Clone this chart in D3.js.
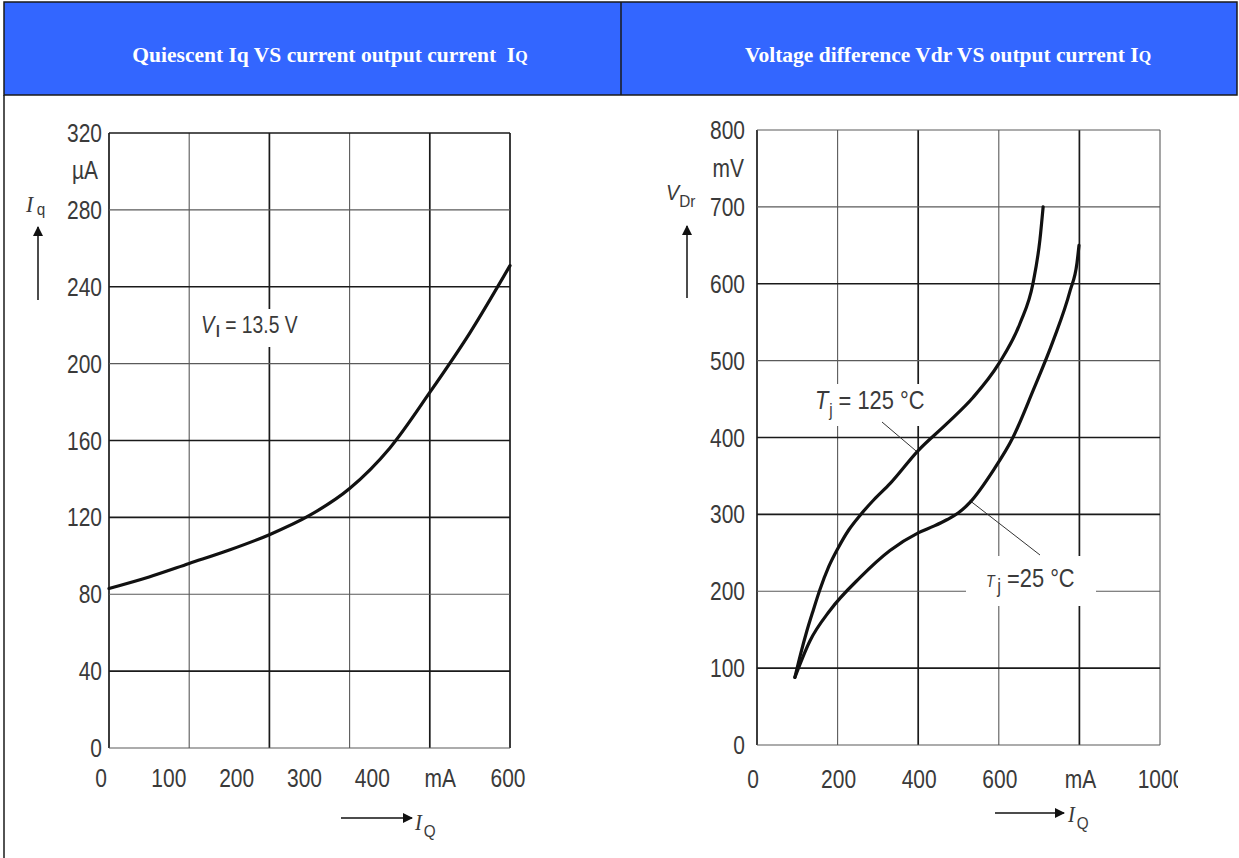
<!DOCTYPE html>
<html>
<head>
<meta charset="utf-8">
<script src="https://cdn.jsdelivr.net/npm/d3@7"></script>
<style>
  body { margin: 0; background: #fff; }
  svg { display: block; }
  .tick { font-family: "Liberation Sans", Arial, sans-serif; font-size: 25px; fill: #3a3a3a; }
</style>
</head>
<body>
<svg width="1239" height="858"></svg>
<script>
// ---- data ----
var titleLeft = "Quiescent Iq VS current output current\u00a0\u00a0I";
var titleRight = "Voltage difference Vdr VS output current I";

// left chart: quiescent current Iq (uA) vs output current IQ (mA), VI = 13.5 V
var iqX = [0, 60, 120, 180, 240, 300, 360, 420, 480, 540, 600];
var iqY = [83, 89, 96, 103, 111, 121, 135, 156, 185, 216, 251];
var leftYTicks = [0, 40, 80, 120, 160, 200, 240, 280, 320];
var leftXGrid = [0, 120, 240, 360, 480, 600];
var leftXLabels = ["0", "100", "200", "300", "400", "mA", "600"];

// right chart: drop voltage VDr (mV) vs output current IQ (mA)
var hotX = [94, 108, 123, 140, 156, 178, 201, 228, 256, 290, 330, 400, 471, 536, 600, 653, 685, 702, 710];
var hotY = [88, 118, 147, 176, 202, 232, 256, 280, 299, 319, 340, 383, 418, 452, 496, 549, 601, 657, 700];
var coldX = [94, 131, 181, 256, 330, 400, 440, 471, 500, 529, 586, 635, 685, 735, 777, 794, 799];
var coldY = [88, 135, 175, 218, 253, 276, 285, 293, 302, 316, 357, 400, 461, 526, 591, 627, 650];
var rightYTicks = [0, 100, 200, 300, 400, 500, 600, 700, 800];
var rightXTicks = [0, 200, 400, 600, 800, 1000];
var rightXLabels = ["0", "200", "400", "600", "mA", "1000"];

var svg = d3.select("svg");
var defs = svg.append("defs");
defs.append("marker").attr("id", "arr")
	.attr("viewBox", "0 0 10 10").attr("refX", 9).attr("refY", 5)
	.attr("markerWidth", 10).attr("markerHeight", 10)
	.attr("markerUnits", "userSpaceOnUse").attr("orient", "auto")
	.append("path").attr("d", "M0,0L10,5L0,10Z").attr("fill", "#111");
defs.append("clipPath").attr("id", "cut")
	.append("rect").attr("x", 0).attr("y", 0).attr("width", 1178).attr("height", 858);

// ---- header table ----
svg.append("rect").attr("x", 4).attr("y", 2).attr("width", 1233).attr("height", 93)
	.attr("fill", "#3366ff").attr("stroke", "#1a1a1a").attr("stroke-width", 1.5);
svg.append("line").attr("x1", 621).attr("x2", 621).attr("y1", 2).attr("y2", 95)
	.attr("stroke", "#1a1a1a").attr("stroke-width", 1.5);
svg.append("line").attr("x1", 4).attr("x2", 4).attr("y1", 95).attr("y2", 858)
	.attr("stroke", "#1a1a1a").attr("stroke-width", 1.5);

function header(x, s) {
	var t = svg.append("text").attr("x", x).attr("y", 62)
		.attr("text-anchor", "middle")
		.style("font-family", "'Liberation Serif', 'Times New Roman', serif")
		.style("font-weight", "bold").style("font-size", "21.5px").style("fill", "#fff");
	t.append("tspan").text(s);
	t.append("tspan").style("font-size", "16px").text("Q");
}
header(330, titleLeft);
header(948, titleRight);

// text helper: tick font is narrow in the original, squeeze it a little
function txt(g, x, y, s, anchor, size) {
	return g.append("text").attr("class", "tick")
		.attr("transform", "translate(" + x + "," + y + ") scale(0.84,1)")
		.attr("text-anchor", anchor || "middle")
		.style("font-size", (size || 25) + "px")
		.text(s);
}

function grid(g, x, y, xs, ys, thinX, thinY) {
	g.selectAll(".gx").data(xs).enter().append("line")
		.attr("x1", d => x(d)).attr("x2", d => x(d))
		.attr("y1", y.range()[0]).attr("y2", y.range()[1])
		.attr("stroke", d => thinX.indexOf(d) >= 0 ? "#5a5a5a" : "#1a1a1a")
		.attr("stroke-width", d => thinX.indexOf(d) >= 0 ? 1.1 : 1.7);
	g.selectAll(".gy").data(ys).enter().append("line")
		.attr("x1", x.range()[0]).attr("x2", x.range()[1])
		.attr("y1", d => y(d)).attr("y2", d => y(d))
		.attr("stroke", d => thinY.indexOf(d) >= 0 ? "#5a5a5a" : "#1a1a1a")
		.attr("stroke-width", d => thinY.indexOf(d) >= 0 ? 1.1 : 1.7);
}

function curve(g, x, y, xs, ys) {
	var pts = xs.map((d, i) => [d, ys[i]]);
	g.append("path").datum(pts)
		.attr("d", d3.line().x(d => x(d[0])).y(d => y(d[1])).curve(d3.curveMonotoneX))
		.attr("fill", "none").attr("stroke", "#111").attr("stroke-width", 3.2)
		.attr("stroke-linecap", "round");
}

function whiteBox(g, x, y, w, h) {
	g.append("rect").attr("x", x).attr("y", y).attr("width", w).attr("height", h).attr("fill", "#fff");
}

// ---- left chart ----
var L = svg.append("g");
var xL = d3.scaleLinear().domain([0, 600]).range([109, 510]);
var yL = d3.scaleLinear().domain([0, 320]).range([748, 133]);
var xLab = d3.scalePoint().domain(leftXLabels).range([101, 508]);

grid(L, xL, yL, leftXGrid, leftYTicks, [120, 360], [0, 80, 200, 280]);
whiteBox(L, 196, 309, 118, 38);
curve(L, xL, yL, iqX, iqY);

leftYTicks.forEach(d => txt(L, 102, yL(d) + 9, d, "end"));
txt(L, 98, 179, "\u00b5A", "end");
leftXLabels.forEach(d => txt(L, xLab(d), 787, d));

var vi = L.append("text").attr("class", "tick").attr("transform", "translate(201,333) scale(0.84,1)");
vi.append("tspan").style("font-style", "italic").style("font-size", "24px").text("V");
vi.append("tspan").attr("dx", 2).attr("dy", 4).style("font-size", "16px").style("font-weight", "bold").text("I");
vi.append("tspan").attr("dy", -4).style("font-size", "23px").text(" = 13.5 V");

var iq = L.append("text").attr("class", "tick").attr("transform", "translate(26,212) scale(0.9,1)");
iq.append("tspan").style("font-style", "italic").style("font-family", "'Liberation Serif', serif").style("font-size", "24px").text("I");
iq.append("tspan").attr("dx", 4).attr("dy", 3).style("font-size", "17px").text("q");
L.append("line").attr("x1", 38).attr("x2", 38).attr("y1", 300).attr("y2", 227)
	.attr("stroke", "#111").attr("stroke-width", 1.5).attr("marker-end", "url(#arr)");

L.append("line").attr("x1", 341).attr("x2", 412).attr("y1", 818).attr("y2", 818)
	.attr("stroke", "#111").attr("stroke-width", 1.3).attr("marker-end", "url(#arr)");
var iqq = L.append("text").attr("class", "tick").attr("transform", "translate(415,830) scale(0.9,1)");
iqq.append("tspan").style("font-style", "italic").style("font-family", "'Liberation Serif', serif").style("font-size", "23px").text("I");
iqq.append("tspan").attr("dx", 2).attr("dy", 7).style("font-size", "17px").text("Q");

// ---- right chart ----
var R = svg.append("g");
var xR = d3.scaleLinear().domain([0, 1000]).range([757, 1160]);
var yR = d3.scaleLinear().domain([0, 800]).range([745, 130]);

grid(R, xR, yR, rightXTicks, rightYTicks, [200, 600, 1000], [0, 200, 500, 700, 800]);
whiteBox(R, 808, 384, 132, 42);
whiteBox(R, 966, 556, 130, 50);

// leader lines
R.append("line").attr("x1", 882).attr("y1", 422).attr("x2", xR(398)).attr("y2", yR(381))
	.attr("stroke", "#333").attr("stroke-width", 1);
R.append("line").attr("x1", xR(528)).attr("y1", yR(318)).attr("x2", 1040).attr("y2", 555)
	.attr("stroke", "#333").attr("stroke-width", 1);

curve(R, xR, yR, hotX, hotY);
curve(R, xR, yR, coldX, coldY);

rightYTicks.forEach(d => txt(R, 745, yR(d) + 9, d, "end"));
txt(R, 744, 177, "mV", "end");
var RL = R.append("g").attr("clip-path", "url(#cut)");
rightXTicks.forEach((d, i) => txt(RL, xR(d) - (i === 0 ? 4 : -1), 788, rightXLabels[i]));

var t1 = R.append("text").attr("class", "tick").attr("transform", "translate(815,409) scale(0.84,1)");
t1.append("tspan").style("font-style", "italic").style("font-size", "26px").text("T");
t1.append("tspan").attr("dx", 1).attr("dy", 7).style("font-size", "18px").text("j");
t1.append("tspan").attr("dy", -7).style("font-size", "26px").text(" = 125 \u00b0C");

var t2 = R.append("text").attr("class", "tick").attr("transform", "translate(986,587) scale(0.84,1)");
t2.append("tspan").style("font-style", "italic").style("font-size", "17px").text("T");
t2.append("tspan").attr("dx", 3).attr("dy", 6).style("font-size", "20px").text("j");
t2.append("tspan").attr("dy", -6).style("font-size", "26px").text(" =25 \u00b0C");

var vd = R.append("text").attr("class", "tick").attr("transform", "translate(666,200) scale(0.9,1)");
vd.append("tspan").style("font-style", "italic").style("font-size", "22px").text("V");
vd.append("tspan").attr("dy", 7).style("font-size", "17px").text("Dr");
R.append("line").attr("x1", 687).attr("x2", 687).attr("y1", 298).attr("y2", 226)
	.attr("stroke", "#111").attr("stroke-width", 1.5).attr("marker-end", "url(#arr)");

R.append("line").attr("x1", 995).attr("x2", 1064).attr("y1", 813).attr("y2", 813)
	.attr("stroke", "#111").attr("stroke-width", 1.3).attr("marker-end", "url(#arr)");
var iqr = R.append("text").attr("class", "tick").attr("transform", "translate(1068,822) scale(0.9,1)");
iqr.append("tspan").style("font-style", "italic").style("font-family", "'Liberation Serif', serif").style("font-size", "23px").text("I");
iqr.append("tspan").attr("dx", 2).attr("dy", 7).style("font-size", "17px").text("Q");
</script>
</body>
</html>
